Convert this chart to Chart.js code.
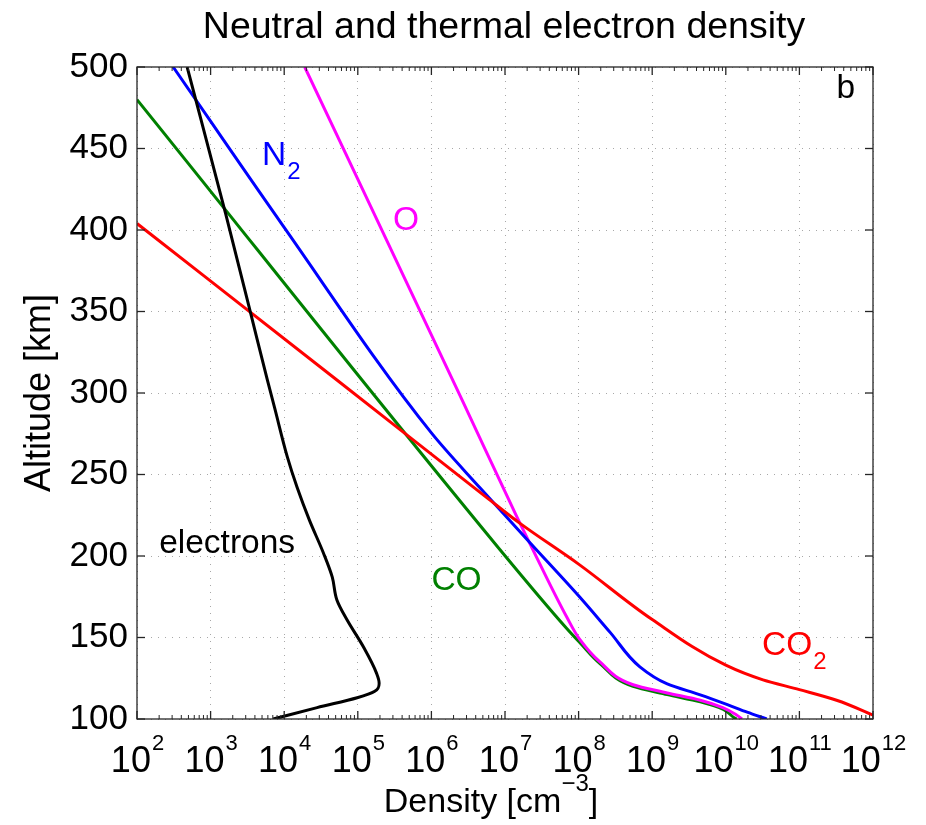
<!DOCTYPE html>
<html>
<head>
<meta charset="utf-8">
<script src="https://cdn.jsdelivr.net/npm/chart.js@4/dist/chart.umd.min.js"></script>
<style>
  html, body { margin: 0; padding: 0; background: #fff; }
  canvas { display: block; }
</style>
</head>
<body>
<canvas id="grafico" width="926" height="825"></canvas>
<script>
// densidades [cm^-3] y altitudes [km]
const electronesDens = [4.8e2, 1.6e3, 3.5e3, 5.9e3, 7.4e3, 1.1e4, 1.5e4, 2.2e4, 3.4e4, 4.5e4, 5.2e4, 7.1e4, 1.2e5, 1.8e5, 1.95e5, 1.7e5, 9.8e4, 2.8e4, 7.1e3]
const electronesAlt  = [500, 410, 349, 308, 291, 261, 242, 222, 202, 187, 173, 161, 144, 128, 122, 117, 113, 107, 100]

const co2Dens = [1.0e2, 5.2e4, 5.6e6, 1.6e7, 1.0e8, 1.0e9, 1.0e10, 3.2e10, 1.0e11, 3.2e11, 1.0e12]
const co2Alt  = [404, 308, 236, 220, 195, 161, 133, 124, 118, 111.5, 102.4]

const n2Dens = [3.1e2, 9.5e3, 1.0e6, 4.6e6, 2.2e7, 1.0e8, 2.7e8, 6.8e8, 1.6e9, 4.5e9, 1.05e10, 1.95e10, 3.6e10]
const n2Alt  = [500, 403, 275.5, 241.7, 208, 175.6, 153, 132, 121.5, 114.8, 108.8, 104.2, 100]

const oDens = [1.9e4, 2.6e6, 1.45e7, 2.7e7, 6.9e7, 1.05e8, 1.95e8, 5.5e8, 1.6e9, 4.5e9, 9.1e9, 1.4e10, 1.66e10]
const oAlt  = [500, 296, 224, 199, 162.6, 148.5, 135, 121, 116, 111.5, 107, 102.5, 100]

const coDens = [1.0e2, 8.5e6, 6.9e7, 1.05e8, 1.95e8, 5.5e8, 1.6e9, 4.5e9, 9.1e9, 1.3e10, 1.4e10]
const coAlt  = [480, 204, 155.5, 146.6, 134, 120, 115, 110.5, 106, 100.8, 100]

// ticks
const xTicks = [1e2, 1e3, 1e4, 1e5, 1e6, 1e7, 1e8, 1e9, 1e10, 1e11, 1e12]
const xExponentes = ['2', '3', '4', '5', '6', '7', '8', '9', '10', '11', '12']
const yTicks = [100, 150, 200, 250, 300, 350, 400, 450, 500]

// etiquetas dentro del grafico (texto, subindice, densidad, altitud, color)
const etiquetas = [
  { texto: 'N', sub: '2', x: 5.0e3, y: 440, color: '#0000ff' },
  { texto: 'O', sub: '', x: 3.0e5, y: 400, color: '#ff00ff' },
  { texto: 'electrons', sub: '', x: 2.0e2, y: 202, color: '#000000' },
  { texto: 'CO', sub: '', x: 1.0e6, y: 179, color: '#008000' },
  { texto: 'CO', sub: '2', x: 3.1e10, y: 139, color: '#ff0000' },
  { texto: 'b', sub: '', x: 3.2e11, y: 481, color: '#000000' }
]

const FUENTE = '"Liberation Sans", Arial, Helvetica, sans-serif'

const puntos = (dens, alt) => dens.map((d, i) => ({ x: d, y: alt[i] }))

const serie = (label, dens, alt, color) => ({
  label,
  data: puntos(dens, alt),
  borderColor: color,
  backgroundColor: color,
  borderWidth: 3,
  pointRadius: 0,
  showLine: true,
  indexAxis: 'y',
  cubicInterpolationMode: 'monotone'
})

// marco, ticks menores, etiquetas de eje x y textos
const decoraciones = {
  id: 'decoraciones',
  afterDraw(chart) {
    const { ctx, chartArea: a } = chart
    const x = chart.scales.x
    const y = chart.scales.y

    const linea = (x1, y1, x2, y2) => {
      ctx.beginPath()
      ctx.moveTo(x1, y1)
      ctx.lineTo(x2, y2)
      ctx.stroke()
    }

    ctx.save()
    ctx.strokeStyle = '#262626'
    ctx.lineWidth = 1.3
    ctx.strokeRect(a.left, a.top, a.right - a.left, a.bottom - a.top)

    // ticks mayores x
    xTicks.forEach(v => {
      const px = x.getPixelForValue(v)
      linea(px, a.bottom, px, a.bottom - 8)
      linea(px, a.top, px, a.top + 8)
    })
    // ticks menores x
    ctx.lineWidth = 1
    xTicks.slice(0, -1).forEach(v => {
      for (let m = 2; m <= 9; m++) {
        const px = x.getPixelForValue(v * m)
        linea(px, a.bottom, px, a.bottom - 4)
        linea(px, a.top, px, a.top + 4)
      }
    })
    // ticks y
    ctx.lineWidth = 1.3
    yTicks.forEach(v => {
      const py = y.getPixelForValue(v)
      linea(a.left, py, a.left + 8, py)
      linea(a.right, py, a.right - 8, py)
    })

    // etiquetas del eje x: 10 con exponente
    ctx.fillStyle = '#000'
    ctx.textBaseline = 'alphabetic'
    ctx.textAlign = 'left'
    xTicks.forEach((v, i) => {
      const px = x.getPixelForValue(v)
      ctx.font = `36px ${FUENTE}`
      const w10 = ctx.measureText('10').width
      ctx.font = `22px ${FUENTE}`
      const wExp = ctx.measureText(xExponentes[i]).width
      const x0 = px - (w10 + wExp) / 2
      ctx.font = `36px ${FUENTE}`
      ctx.fillText('10', x0, a.bottom + 53)
      ctx.font = `22px ${FUENTE}`
      ctx.fillText(xExponentes[i], x0 + w10 + 1, a.bottom + 31)
    })

    // titulo del eje x
    const centro = (a.left + a.right) / 2
    ctx.font = `34px ${FUENTE}`
    const t1 = 'Density [cm'
    const t3 = ']'
    const w1 = ctx.measureText(t1).width
    const w3 = ctx.measureText(t3).width
    ctx.font = `24px ${FUENTE}`
    const t2 = '\u22123'
    const w2 = ctx.measureText(t2).width
    const xt = centro - 14 - (w1 + w2 + w3) / 2
    ctx.font = `34px ${FUENTE}`
    ctx.fillText(t1, xt, a.bottom + 93)
    ctx.font = `24px ${FUENTE}`
    ctx.fillText(t2, xt + w1, a.bottom + 72)
    ctx.font = `34px ${FUENTE}`
    ctx.fillText(t3, xt + w1 + w2, a.bottom + 93)

    // titulo
    ctx.textAlign = 'center'
    ctx.font = `37.5px ${FUENTE}`
    ctx.fillText('Neutral and thermal electron density', centro - 1, 38)

    // etiquetas de las curvas
    ctx.textAlign = 'left'
    etiquetas.forEach(e => {
      const px = x.getPixelForValue(e.x)
      const py = y.getPixelForValue(e.y)
      ctx.fillStyle = e.color
      ctx.font = `33.5px ${FUENTE}`
      ctx.fillText(e.texto, px, py)
      if (e.sub) {
        const w = ctx.measureText(e.texto).width
        ctx.font = `24px ${FUENTE}`
        ctx.fillText(e.sub, px + w + 1, py + 14)
      }
    })
    ctx.restore()
  }
}

const ctx = document.getElementById('grafico').getContext('2d')

new Chart(ctx, {
  type: 'scatter',
  data: {
    datasets: [
      serie('electrons', electronesDens, electronesAlt, '#000000'),
      serie('CO2', co2Dens, co2Alt, '#ff0000'),
      serie('N2', n2Dens, n2Alt, '#0000ff'),
      serie('O', oDens, oAlt, '#ff00ff'),
      serie('CO', coDens, coAlt, '#008000')
    ]
  },
  options: {
    responsive: false,
    animation: false,
    layout: { padding: { left: 0, top: 67, right: 53, bottom: 0 } },
    plugins: {
      legend: { display: false },
      title: { display: false },
      tooltip: { enabled: false }
    },
    scales: {
      x: {
        type: 'logarithmic',
        min: 1e2,
        max: 1e12,
        afterBuildTicks: (scale) => { scale.ticks = xTicks.map(v => ({ value: v })) },
        afterFit: (scale) => { scale.height = 106 },
        ticks: { display: false },
        grid: { color: '#a8a8a8', lineWidth: 1, drawTicks: false },
        border: { display: false, dash: [1, 6] }
      },
      y: {
        type: 'linear',
        min: 100,
        max: 500,
        afterBuildTicks: (scale) => { scale.ticks = yTicks.map(v => ({ value: v })) },
        afterFit: (scale) => { scale.width = 137 },
        ticks: {
          color: '#000',
          padding: 9,
          font: { family: FUENTE, size: 35 }
        },
        title: {
          display: true,
          text: 'Altitude [km]',
          color: '#000',
          font: { family: FUENTE, size: 36 },
          padding: { top: 18, bottom: 0 }
        },
        grid: { color: '#a8a8a8', lineWidth: 1, drawTicks: false },
        border: { display: false, dash: [1, 6] }
      }
    }
  },
  plugins: [decoraciones]
})
</script>
</body>
</html>
